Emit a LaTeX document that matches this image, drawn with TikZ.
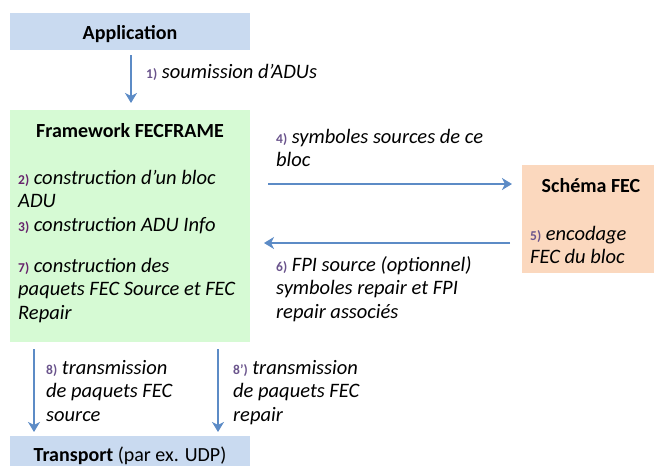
\documentclass[tikz,border=0pt]{standalone}
\usepackage{fontspec}
\setmainfont{Carlito}
\usetikzlibrary{arrows.meta}
\definecolor{appblue}{RGB}{201,218,240}
\definecolor{fwgreen}{RGB}{214,250,212}
\definecolor{fecpeach}{RGB}{251,216,190}
\definecolor{arrowblue}{RGB}{92,139,198}
\definecolor{numpurple}{RGB}{106,84,140}
\definecolor{numdark}{RGB}{104,36,108}
\newcommand{\num}[1]{{\fontsize{13.5}{16}\selectfont\upshape\bfseries\color{numpurple}#1}}
\newcommand{\numd}[1]{{\fontsize{13.5}{16}\selectfont\upshape\bfseries\color{numdark}#1}}
\tikzset{
  x=1pt, y=-1pt,
  title/.style={font=\fontsize{20}{24}\selectfont\bfseries, inner sep=0pt},
  txt/.style={font=\fontsize{20.5}{23.5}\selectfont\itshape, align=left, anchor=north west, inner sep=0pt},
  flow/.style={draw=arrowblue, line width=2.4pt, -{Stealth[length=10pt,width=12pt,inset=3pt]}}
}
\begin{document}
\begin{tikzpicture}
\useasboundingbox (0,0) rectangle (654,466);
% boxes
\fill[appblue] (10,13) rectangle (250,50);
\node[title] (app) at (130,34) {Application};
\fill[fwgreen] (10,110) rectangle (250,342);
\node[title] (fwt) at (130,131) {Framework FECFRAME};
\fill[fecpeach] (522,165) rectangle (654,273);
\node[title] (fect) at (591,186) {Schéma FEC};
\fill[appblue] (10,436) rectangle (250,466);
\node[font=\fontsize{20}{24}\selectfont, inner sep=0pt] (tr) at (130,456) {\textbf{Transport} (par ex. UDP)};
% coordinates for arrows
\coordinate (a1s) at (131,55);
\coordinate (a1e) at (131,103);
\coordinate (a4s) at (268,184);
\coordinate (a4e) at (512,184);
\coordinate (a6s) at (510,243);
\coordinate (a6e) at (264,243);
\coordinate (a8s) at (34,349);
\coordinate (a8e) at (34,432);
\coordinate (a9s) at (218,349);
\coordinate (a9e) at (218,432);
\draw[flow] (a1s) -- (a1e);
\draw[flow] (a4s) -- (a4e);
\draw[flow] (a6s) -- (a6e);
\draw[flow] (a8s) -- (a8e);
\draw[flow] (a9s) -- (a9e);
% texts
\node[txt] (l1) at (146,64) {\num{1)} soumission d’ADUs};
\node[txt] (l2) at (18,170) {\numd{2)} construction d’un bloc\\ADU\\\numd{3)} construction ADU Info};
\node[txt] (l7) at (18,258) {\numd{7)} construction des\\paquets FEC Source et FEC\\Repair};
\node[txt] (l4) at (276,129) {\num{4)} symboles sources de ce\\bloc};
\node[txt] (l5) at (530,226) {\num{5)} encodage\\FEC du bloc};
\node[txt] (l6) at (276,256) {\num{6)} FPI source (optionnel)\\symboles repair et FPI\\repair associés};
\node[txt] (l8) at (46,360) {\num{8)} transmission\\de paquets FEC\\source};
\node[txt] (l9) at (233,360) {\num{8’)} transmission\\de paquets FEC\\repair};
\end{tikzpicture}
\end{document}
